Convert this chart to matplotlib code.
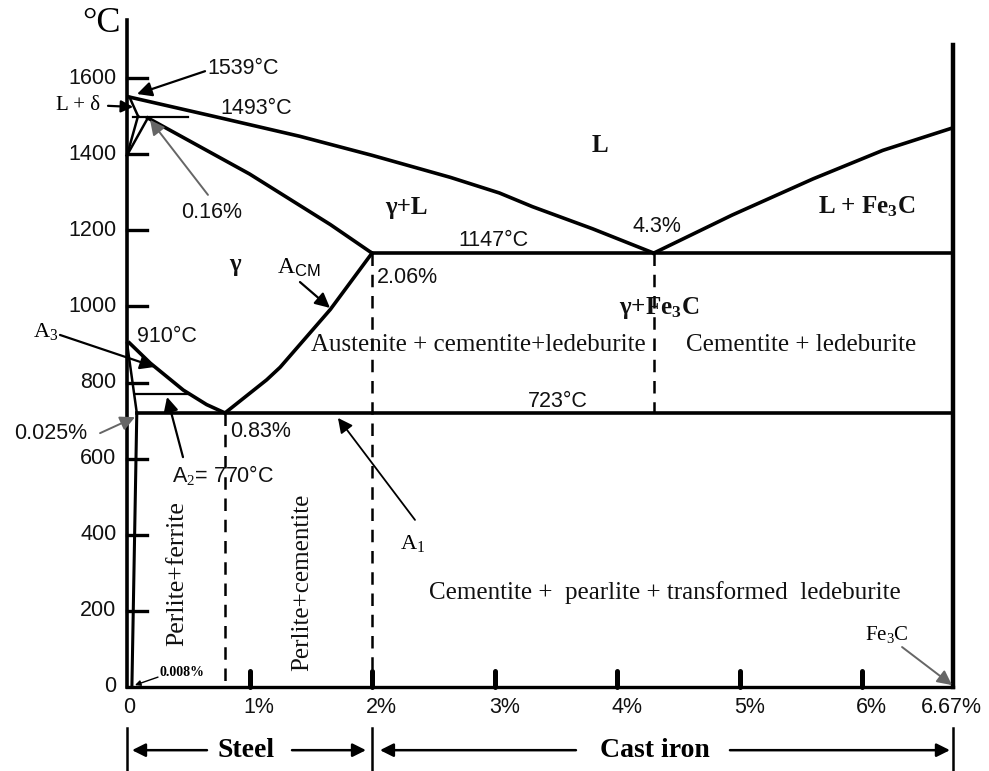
import numpy as np
import matplotlib.pyplot as plt

plt.rcParams['mathtext.fontset'] = 'custom'
plt.rcParams['mathtext.rm'] = 'Liberation Serif'
plt.rcParams['mathtext.it'] = 'Liberation Serif:italic'
plt.rcParams['mathtext.bf'] = 'Liberation Serif:bold'
plt.rcParams['mathtext.sf'] = 'Liberation Sans'

SANS = 'Liberation Sans'
SERIF = 'Liberation Serif'

# ---- data (carbon %, temperature C) ----
c_end = 6.74          # where the 6.67 % (Fe3C) line sits on the drawing
liq_left_c = [0.02, 0.7, 1.41, 2.0, 2.64, 3.04, 3.31, 3.8, 4.3]
liq_left_t = [1550, 1500, 1447, 1397, 1339, 1298, 1262, 1204, 1140]
liq_right_c = [4.3, 4.94, 5.6, 6.17, 6.74]
liq_right_t = [1140, 1240, 1335, 1410, 1469]
solidus_c = [0.17, 1.0, 1.66, 2.0]
solidus_t = [1495, 1348, 1215, 1140]
acm_c = [0.8, 1.14, 1.25, 1.66, 2.0]
acm_t = [720, 807, 840, 992, 1140]
a3_c = [0.02, 0.19, 0.46, 0.65, 0.8]
a3_t = [904, 851, 780, 742, 720]
perit_c = [0.05, 0.5]
perit_t = [1497, 1497]
delta1_c = [0.0, 0.09]
delta1_t = [1397, 1500]
delta2_c = [0.0, 0.17]
delta2_t = [1397, 1495]
delta3_c = [0.02, 0.09]
delta3_t = [1550, 1500]
gp_c = [0.0, 0.08]
gp_t = [904, 720]
solvus_c = [0.08, 0.04]
solvus_t = [720, 0]
eutectic_t = 1140
eutectoid_t = 720
a2_c = [0.07, 0.5]
a2_t = 770
eutectoid_c = 0.8
eutectic_lim_c = 2.0
eutectic_c = 4.3

yticks = [200, 400, 600, 800, 1000, 1200, 1400, 1600]
ylabels = ['0', '200', '400', '600', '800', '1000', '1200', '1400', '1600']
xticks = [1, 2, 3, 4, 5, 6]
xlabels = ['0', '1%', '2%', '3%', '4%', '5%', '6%', '6.67%']

fig = plt.figure(figsize=(9.89, 7.71), dpi=100)
ax = fig.add_axes([0, 0, 1, 1])
ax.set_xlim(-127 / 122.5, (989 - 127) / 122.5)
ax.set_ylim((687 - 771) / 0.3806, 687 / 0.3806)
ax.axis('off')

k = 'black'
lw = 2.6
# frame lines
ax.plot([0, 0], [0, 1752], color=k, lw=2.6)
ax.plot([0, c_end], [0, 0], color=k, lw=2.4)
ax.plot([c_end, c_end], [0, 1687], color=k, lw=3.2)

# phase boundaries
ax.plot(liq_left_c, liq_left_t, color=k, lw=lw)
ax.plot(liq_right_c, liq_right_t, color=k, lw=lw)
ax.plot(solidus_c, solidus_t, color=k, lw=lw)
ax.plot(acm_c, acm_t, color=k, lw=lw)
ax.plot(a3_c, a3_t, color=k, lw=lw)
ax.plot(perit_c, perit_t, color=k, lw=1.6)
for cc, tt in [(delta1_c, delta1_t), (delta2_c, delta2_t), (delta3_c, delta3_t)]:
    ax.plot(cc, tt, color=k, lw=1.8)
ax.plot(gp_c, gp_t, color=k, lw=1.8)
ax.plot(solvus_c, solvus_t, color=k, lw=2.2)
ax.plot([eutectic_lim_c, c_end], [eutectic_t, eutectic_t], color=k, lw=lw)
ax.plot([solvus_c[0], c_end], [eutectoid_t, eutectoid_t], color=k, lw=lw)
ax.plot(a2_c, [a2_t, a2_t], color=k, lw=1.6)

# dashed verticals
ds = dict(color=k, lw=1.8, ls=(0, (5, 3.5)))
ax.plot([eutectoid_c, eutectoid_c], [eutectoid_t, 0], **ds)
ax.plot([eutectic_lim_c, eutectic_lim_c], [eutectic_t, 0], **ds)
ax.plot([eutectic_c, eutectic_c], [eutectic_t, eutectoid_t], **ds)

# ticks
for t in yticks:
    ax.plot([0, 0.16], [t, t], color=k, lw=2.4)
for c in xticks:
    ax.plot([c, c], [0, 42], color=k, lw=3.6, solid_capstyle='round')

tk = dict(fontsize=15.5, family=SANS, color='#111')
ax.text(-0.085, 0, ylabels[0], ha='right', va='center', **tk)
for t, lab in zip(yticks, ylabels[1:]):
    ax.text(-0.085, t, lab, ha='right', va='center', **tk)
ax.text(0.02, -55, xlabels[0], ha='center', va='center', **tk)
for c, lab in zip(xticks, xlabels[1:-1]):
    ax.text(c + 0.08, -55, lab, ha='center', va='center', **tk)
ax.text(c_end - 0.01, -55, xlabels[-1], ha='center', va='center', **tk)
ax.text(-0.21, 1742, '\u00b0C', ha='center', va='center', fontsize=26, family=SERIF)

# labels
sans = dict(family=SANS, fontsize=15.5, color='#111')
serif = dict(family=SERIF, fontsize=18, color='#111')
bserif = dict(family=SERIF, fontsize=18, fontweight='bold', color='#111')


def arrow(x0, y0, x1, y1, col='black', lw=1.6, ms=22):
    ax.annotate('', xy=(x1, y1), xytext=(x0, y0),
                arrowprops=dict(arrowstyle='-|>', color=col, lw=lw,
                                mutation_scale=ms, shrinkA=0, shrinkB=0))


ax.text(0.66, 1626, '1539\u00b0C', ha='left', va='center', **sans)
arrow(0.637, 1618, 0.082, 1558)
ax.text(0.76, 1521, '1493\u00b0C', ha='left', va='center', **sans)
ax.text(-0.40, 1529, 'L + \u03b4', ha='center', va='center', family=SERIF, fontsize=15)
arrow(-0.155, 1527, 0.05, 1524, ms=18)
ax.text(0.694, 1248, '0.16%', ha='center', va='center', **sans)
arrow(0.661, 1293, 0.188, 1490, col='#666666', lw=1.4)

ax.text(0.88, 1109, '\u03b3', ha='center', va='center', **bserif)
ax.text(2.28, 1261, '\u03b3+L', ha='center', va='center', **bserif)
ax.text(3.86, 1424, 'L', ha='center', va='center', **bserif)
ax.text(2.99, 1174, '1147\u00b0C', ha='center', va='center', **sans)
ax.text(4.33, 1209, '4.3%', ha='center', va='center', **sans)
ax.text(6.04, 1261, r'L + Fe$\mathbf{_3}$C', ha='center', va='center', **bserif)
ax.text(1.224, 1101, r'A$_{\mathsf{CM}}$', ha='left', va='center', family=SERIF, fontsize=17)
arrow(1.412, 1064, 1.657, 996)
ax.text(2.04, 1077, '2.06%', ha='left', va='center', **sans)
ax.text(4.34, 996, '\u03b3+Fe$\\mathbf{_3}$C', ha='center', va='center', **bserif)
ax.text(2.87, 899, 'Austenite + cementite+ledeburite', ha='center', va='center', **serif)
ax.text(5.50, 899, 'Cementite + ledeburite', ha='center', va='center', **serif)

ax.text(-0.767, 935, r'A$_3$', ha='left', va='center', family=SERIF, fontsize=16)
arrow(-0.547, 925, 0.229, 841)
ax.text(0.082, 920, '910\u00b0C', ha='left', va='center', **sans)
ax.text(-0.62, 667, '0.025%', ha='center', va='center', **sans)
arrow(-0.22, 667, 0.065, 709, col='#666666', lw=1.4)
ax.text(0.841, 670, '0.83%', ha='left', va='center', **sans)
ax.text(0.367, 557, 'A$_2$= 770\u00b0C', ha='left', va='center', **sans)
arrow(0.457, 604, 0.327, 762)
ax.text(3.52, 749, '723\u00b0C', ha='center', va='center', **sans)
ax.text(2.229, 378, r'A$_1$', ha='left', va='center', family=SERIF, fontsize=16)
arrow(2.351, 439, 1.722, 707, lw=1.3)

ax.text(0.408, 297, 'Perlite+ferrite', ha='center', va='center', rotation=90,
        family=SERIF, fontsize=18.5, color='#111')
ax.text(1.429, 276, 'Perlite+cementite', ha='center', va='center', rotation=90,
        family=SERIF, fontsize=18, color='#111')
ax.text(4.39, 247, 'Cementite +  pearlite + transformed  ledeburite',
        ha='center', va='center', **serif)
ax.text(6.204, 137, r'Fe$_3$C', ha='center', va='center', family=SERIF, fontsize=15)
arrow(6.327, 105, 6.735, 5, col='#666666', lw=1.4)
ax.text(0.269, 39, '0.008%', ha='left', va='center', family=SERIF,
        fontsize=10, fontweight='bold')
arrow(0.253, 26, 0.065, 5, lw=1.0, ms=8)

# steel / cast iron brackets
for c in [0.0, eutectic_lim_c, c_end]:
    ax.plot([c, c], [-108, -221], color=k, lw=1.8)
arrow(0.653, -166, 0.041, -166, lw=1.8, ms=20)
arrow(1.347, -166, 1.951, -166, lw=1.8, ms=20)
arrow(3.665, -166, 2.065, -166, lw=1.8, ms=20)
arrow(4.922, -166, 6.718, -166, lw=1.8, ms=20)
ax.text(0.971, -166, 'Steel', ha='center', va='center', family=SERIF,
        fontsize=20, fontweight='bold')
ax.text(4.31, -166, 'Cast iron', ha='center', va='center', family=SERIF,
        fontsize=20, fontweight='bold')

fig.savefig('out.png', dpi=100)
